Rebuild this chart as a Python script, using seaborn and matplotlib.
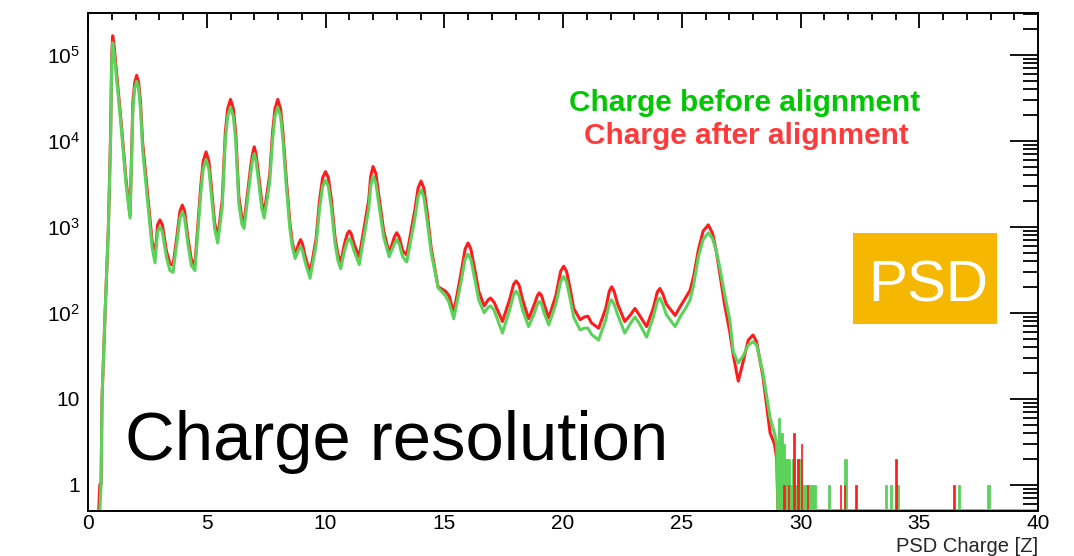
import numpy as np
import pandas as pd
import matplotlib
matplotlib.use("Agg")
import matplotlib.pyplot as plt
from matplotlib.patches import Rectangle
from matplotlib.ticker import LogLocator, MultipleLocator, NullFormatter
import seaborn as sns

# ---------------- data ----------------
charge_z = [
    0.45, 0.50, 0.55, 0.59, 0.72, 0.86, 0.95, 1.00, 1.04, 1.10, 1.40, 1.60, 1.77,
    1.89, 1.97, 2.05, 2.13, 2.21, 2.30, 2.50, 2.70, 2.82,
    2.93, 3.03, 3.13, 3.30, 3.45, 3.58,
    3.75, 3.87, 3.97, 4.07, 4.20, 4.35, 4.50,
    4.75, 4.85, 4.97, 5.09, 5.19, 5.33, 5.46,
    5.65, 5.78, 5.88, 6.00, 6.12, 6.22, 6.35, 6.48, 6.57,
    6.70, 6.85, 6.93, 7.00, 7.07, 7.15, 7.32, 7.42,
    7.65, 7.77, 7.87, 7.99, 8.11, 8.21, 8.35, 8.50, 8.60, 8.72,
    8.87, 8.95, 9.03, 9.15, 9.35,
    9.60, 9.75, 9.88, 10.00, 10.12, 10.25, 10.40, 10.52, 10.64,
    10.80, 10.92, 11.00, 11.08, 11.20, 11.42,
    11.82, 11.90, 12.00, 12.12, 12.25, 12.45, 12.68,
    12.90, 13.00, 13.10, 13.25, 13.42,
    13.76, 13.90, 14.02, 14.14, 14.27, 14.45, 14.74,
    15.05, 15.20, 15.40,
    15.70, 15.88, 16.00, 16.12, 16.30, 16.45, 16.68,
    16.85, 16.95, 17.10, 17.45,
    17.75, 17.92, 18.03, 18.15, 18.30, 18.55,
    18.80, 18.92, 19.00, 19.10, 19.20, 19.40,
    19.70, 19.90, 20.03, 20.15, 20.30, 20.45, 20.72,
    20.90, 21.05, 21.20, 21.50,
    21.80, 21.95, 22.05, 22.15, 22.30, 22.60,
    22.85, 23.03, 23.20, 23.52,
    23.80, 23.97, 24.08, 24.20, 24.35, 24.72,
    24.93, 25.20, 25.35, 25.50, 25.70, 25.90, 26.12, 26.30, 26.45, 26.60, 26.80,
    27.03, 27.17, 27.38, 27.60, 27.80, 28.00, 28.15, 28.42, 28.72, 28.90, 29.00,
    29.05, 40.00,
]

counts_after = [
    0, 1, 1, 10, 100, 1000, 11200, 100000, 166000, 126000, 15800, 3550, 1350,
    28200, 47900, 57500, 47900, 28200, 9550, 2510, 676, 447,
    1050, 1200, 1050, 525, 372, 355,
    794, 1510, 1780, 1510, 759, 417, 355,
    3020, 5750, 7410, 5750, 3020, 1120, 741,
    2000, 12300, 23400, 30200, 23400, 12300, 2240, 1260, 1100,
    2240, 5010, 7080, 8510, 7080, 4790, 1910, 1450,
    3980, 12300, 23400, 30200, 23400, 12300, 3550, 1120, 661, 468,
    631, 708, 631, 447, 288,
    708, 2040, 3720, 4370, 3720, 2040, 759, 479, 380,
    631, 832, 891, 832, 631, 447,
    2040, 3800, 5010, 4170, 2240, 891, 490,
    759, 851, 759, 525, 468,
    1550, 2820, 3390, 2820, 1550, 562, 200,
    178, 158, 100,
    282, 550, 646, 550, 302, 178, 120,
    141, 148, 132, 79,
    141, 214, 234, 209, 141, 85,
    126, 158, 170, 158, 126, 87,
    158, 302, 347, 302, 191, 112, 83,
    89, 91, 76, 66,
    112, 178, 200, 178, 126, 79,
    95, 112, 95, 69,
    112, 174, 191, 166, 126, 93,
    117, 155, 182, 263, 537, 891, 1050, 832, 525, 288, 126,
    58, 32, 16, 28, 48, 55, 46, 18, 4, 3, 2,
    0, 0,
]

counts_before = [
    0, 0, 1, 10, 100, 1000, 10000, 85100, 138000, 105000, 14100, 3160, 1260,
    22900, 40700, 49000, 40700, 23400, 7940, 2090, 575, 380,
    871, 1000, 871, 447, 309, 295,
    676, 1260, 1480, 1260, 646, 355, 309,
    2450, 4680, 6030, 4680, 2450, 955, 646,
    1660, 10000, 19100, 24500, 19100, 10000, 1860, 1070, 955,
    1910, 4170, 5890, 7080, 5890, 3980, 1620, 1260,
    3310, 10000, 19100, 24500, 19100, 10000, 2950, 955, 589, 427,
    537, 589, 525, 380, 251,
    603, 1620, 2950, 3470, 2950, 1620, 646, 407, 324,
    525, 676, 724, 676, 525, 363,
    1620, 2950, 3890, 3240, 1780, 759, 447,
    631, 708, 631, 447, 389,
    1230, 2240, 2690, 2240, 1230, 501, 195,
    158, 132, 85,
    224, 417, 479, 417, 234, 141, 100,
    115, 120, 107, 58,
    107, 162, 178, 158, 107, 69,
    100, 126, 135, 126, 100, 72,
    126, 229, 263, 229, 145, 89, 63,
    66, 66, 56, 48,
    83, 129, 141, 126, 95, 58,
    76, 89, 76, 52,
    89, 135, 148, 126, 95, 69,
    89, 117, 141, 209, 447, 708, 851, 724, 525, 339, 166,
    81, 35, 26, 32, 42, 46, 42, 20, 6, 4, 3,
    0, 0,
]

# sparse high-charge tail (single bins)
tail_before_z = [29.1, 29.2, 29.3, 29.4, 29.5, 29.6, 29.7, 29.8, 29.9, 30.0, 30.1, 30.2,
                 30.3, 30.4, 30.5, 30.6, 31.21, 31.9, 33.6, 33.8, 34.1, 36.67, 37.91]
tail_before_counts = [6, 4, 3, 2, 2, 1, 2, 1, 2, 2, 1, 1,
                      1, 1, 1, 1, 1, 2, 1, 1, 1, 1, 1]
tail_after_z = [29.3, 29.5, 29.73, 29.9, 30.05, 30.3, 31.69, 31.85, 32.34, 34.02, 36.46]
tail_after_counts = [1, 1, 4, 2, 3, 1, 1, 1, 1, 2, 1]

series_names = ["Charge after alignment", "Charge before alignment"]
x_ticks_major = [0, 5, 10, 15, 20, 25, 30, 35, 40]
y_ticks = [1, 10, 100, 1000, 10000, 100000]
y_tick_labels = ["1", "10", r"$10^{2}$", r"$10^{3}$", r"$10^{4}$", r"$10^{5}$"]

assert len(charge_z) == len(counts_after) == len(counts_before)

# ---------------- style ----------------
RED = "#ff1c1c"
GREEN = "#5bd35b"
YMIN, YMAX = 0.494, 3.08e5

sns.set_style("white")
plt.rcParams["font.family"] = ["Liberation Sans", "DejaVu Sans"]
plt.rcParams["mathtext.fontset"] = "custom"
plt.rcParams["mathtext.rm"] = "Liberation Sans"
plt.rcParams["mathtext.it"] = "Liberation Sans:italic"
plt.rcParams["mathtext.bf"] = "Liberation Sans:bold"

fig = plt.figure(figsize=(10.74, 5.56), dpi=100)
ax = fig.add_axes([88 / 1074, 1 - 511 / 556, 950 / 1074, (511 - 12.7) / 556])

df = pd.DataFrame({
    "Z": charge_z * 2,
    "counts": counts_after + counts_before,
    "series": [series_names[0]] * len(charge_z) + [series_names[1]] * len(charge_z),
})
df["shown"] = df["counts"].clip(lower=YMIN)

sns.lineplot(data=df, x="Z", y="shown", hue="series", hue_order=series_names,
             palette={series_names[0]: RED, series_names[1]: GREEN},
             estimator=None, sort=False, legend=False, linewidth=2.2, ax=ax)

tb = np.array(tail_before_counts, dtype=float)
ax.bar(tail_before_z, tb - YMIN, bottom=YMIN, width=0.1, color=GREEN,
       edgecolor=GREEN, linewidth=0.6, zorder=2.2)
ta = np.array(tail_after_counts, dtype=float)
ax.bar(tail_after_z, ta - YMIN, bottom=YMIN, width=0.06, color=RED,
       edgecolor=RED, linewidth=0.5, zorder=2.3)

ax.set_yscale("log")
ax.set_xlim(0, 40)
ax.set_ylim(YMIN, YMAX)

ax.set_xticks(x_ticks_major)
ax.set_xticklabels([str(v) for v in x_ticks_major])
ax.xaxis.set_minor_locator(MultipleLocator(1))
ax.set_yticks(y_ticks)
ax.set_yticklabels(y_tick_labels)
ax.yaxis.set_minor_locator(LogLocator(base=10, subs=np.arange(2, 10), numticks=20))
ax.yaxis.set_minor_formatter(NullFormatter())

ax.tick_params(axis="both", which="both", direction="in", top=True, right=True,
               colors="black", labelsize=15, width=1.3)
ax.tick_params(axis="x", which="major", length=10.5, pad=2.5)
ax.tick_params(axis="x", which="minor", length=5.3)
ax.tick_params(axis="y", which="major", length=20.5, pad=6)
ax.tick_params(axis="y", which="minor", length=10.5)
for sp in ax.spines.values():
    sp.set_color("black")
    sp.set_linewidth(1.4)
    sp.set_visible(True)

ax.set_xlabel("PSD Charge [Z]", fontsize=14.5, ha="right", va="center")
ax.xaxis.set_label_coords(1.0, -0.0715)
ax.set_ylabel("")

# annotations
fig.text(745 / 1074, 1 - 110.7 / 556, "Charge before alignment", color="#00c800",
         fontsize=21.4, fontweight="bold", ha="center", va="baseline")
fig.text(746 / 1074, 1 - 144 / 556, "Charge after alignment", color="#ff3a3a",
         fontsize=21.4, fontweight="bold", ha="center", va="baseline")
fig.text(125 / 1074, 1 - 460 / 556, "Charge resolution", color="black",
         fontsize=49.6, ha="left", va="baseline")
fig.patches.append(Rectangle((852.7 / 1074, 1 - 324.3 / 556), 144 / 1074, 91.6 / 556,
                             transform=fig.transFigure, facecolor="#f5b700",
                             edgecolor="none", zorder=5))
fig.text(928 / 1074, 1 - 301.7 / 556, "PSD", color="white", fontsize=42,
         ha="center", va="baseline", zorder=6)

fig.savefig("out.png", dpi=100)
